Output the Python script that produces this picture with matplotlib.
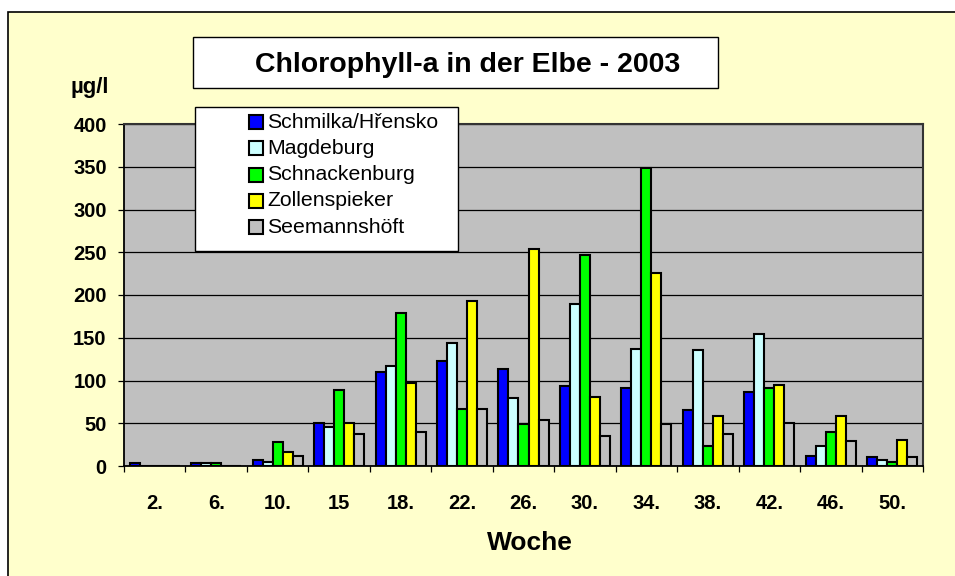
import matplotlib
matplotlib.use("Agg")
import matplotlib.pyplot as plt
from matplotlib.patches import Rectangle
import numpy as np

plt.rcParams['font.family'] = ['Liberation Sans', 'DejaVu Sans']

weeks = ["2.", "6.", "10.", "15", "18.", "22.", "26.", "30.", "34.", "38.", "42.", "46.", "50."]
series_names = ["Schmilka/Hřensko", "Magdeburg", "Schnackenburg", "Zollenspieker", "Seemannshöft"]
series_colors = ["#0000FF", "#CCFFFF", "#00FF00", "#FFFF00", "#C0C0C0"]

schmilka = [3, 3, 7, 50, 110, 123, 114, 93, 91, 65, 86, 12, 10]
magdeburg = [0, 3, 5, 46, 117, 144, 79, 189, 137, 136, 154, 23, 7]
schnackenburg = [0, 3, 28, 89, 179, 67, 49, 247, 349, 23, 91, 40, 5]
zollenspieker = [0, 0, 16, 50, 97, 193, 254, 81, 226, 59, 95, 59, 30]
seemannshoeft = [0, 0, 12, 38, 40, 67, 54, 35, 49, 38, 50, 29, 10]
all_series = [schmilka, magdeburg, schnackenburg, zollenspieker, seemannshoeft]

yticks = [0, 50, 100, 150, 200, 250, 300, 350, 400]

W, H = 955, 576
fig = plt.figure(figsize=(W / 100, H / 100), dpi=100, facecolor="white")


def fx(px):
    return px / W


def fy(py):
    return 1 - py / H


# outer chart area (yellow) with border at left/top
fig.patches.append(Rectangle((fx(8), fy(590)), fx(960) - fx(8), fy(12) - fy(590),
                             transform=fig.transFigure, facecolor="#FFFFCC",
                             edgecolor="black", linewidth=1.2, zorder=-10))

ax = fig.add_axes([fx(124), fy(466), fx(923) - fx(124), fy(124) - fy(466)])
ax.set_zorder(1)
ax.set_facecolor("#C0C0C0")

x = np.arange(len(weeks))
w = 0.163
for i, (vals, name, col) in enumerate(zip(all_series, series_names, series_colors)):
    ax.bar(x + (i - 2) * w, vals, width=w, color=col, edgecolor="black",
           linewidth=1.5, label=name, zorder=3)

ax.set_xlim(-0.5, len(weeks) - 0.5)
ax.set_ylim(0, 400)
ax.set_yticks(yticks)
ax.set_yticklabels([str(v) for v in yticks], fontsize=14.5, fontweight="bold")
ax.yaxis.grid(True, color="black", linewidth=0.9, zorder=1)
ax.set_axisbelow(True)
ax.tick_params(axis="y", direction="out", length=4.5, width=0.9, pad=8)

ax.set_xticks(x)
ax.set_xticklabels(weeks, fontsize=14.5, fontweight="bold")
ax.set_xticks(np.arange(-0.5, len(weeks), 1.0), minor=True)
ax.tick_params(axis="x", which="major", length=0, pad=20)
ax.tick_params(axis="x", which="minor", direction="out", length=4.5, width=0.9)

for side in ["left", "bottom"]:
    ax.spines[side].set_color("black")
    ax.spines[side].set_linewidth(1.3)
for side in ["top", "right"]:
    ax.spines[side].set_color("#333333")
    ax.spines[side].set_linewidth(1.5)

# x axis title
fig.text(fx(530), fy(543), "Woche", fontsize=19, fontweight="bold",
         ha="center", va="center")
# y unit
fig.text(fx(90), fy(87), "µg/l", fontsize=16, fontweight="bold",
         ha="center", va="center")

# title box
fig.patches.append(Rectangle((fx(193), fy(88)), fx(718) - fx(193), fy(37) - fy(88),
                             transform=fig.transFigure, facecolor="white",
                             edgecolor="black", linewidth=1.0, zorder=5))
fig.text(fx(468), fy(72), "Chlorophyll-a in der Elbe - 2003", fontsize=20.5,
         fontweight="bold", ha="center", va="baseline", zorder=6)

# legend box
fig.patches.append(Rectangle((fx(195), fy(251)), fx(458) - fx(195), fy(107) - fy(251),
                             transform=fig.transFigure, facecolor="white",
                             edgecolor="black", linewidth=1.0, zorder=5))
row0, drow = 122, 26.3
sq = 14
for i, (name, col) in enumerate(zip(series_names, series_colors)):
    cy = row0 + i * drow
    fig.patches.append(Rectangle((fx(249), fy(cy + sq / 2)), fx(249 + sq) - fx(249),
                                 fy(cy - sq / 2) - fy(cy + sq / 2),
                                 transform=fig.transFigure, facecolor=col,
                                 edgecolor="black", linewidth=1.5, zorder=6))
    fig.text(fx(267), fy(cy), name, fontsize=15.3, ha="left", va="center", zorder=7)

fig.savefig("out.png", dpi=100, facecolor="white")
